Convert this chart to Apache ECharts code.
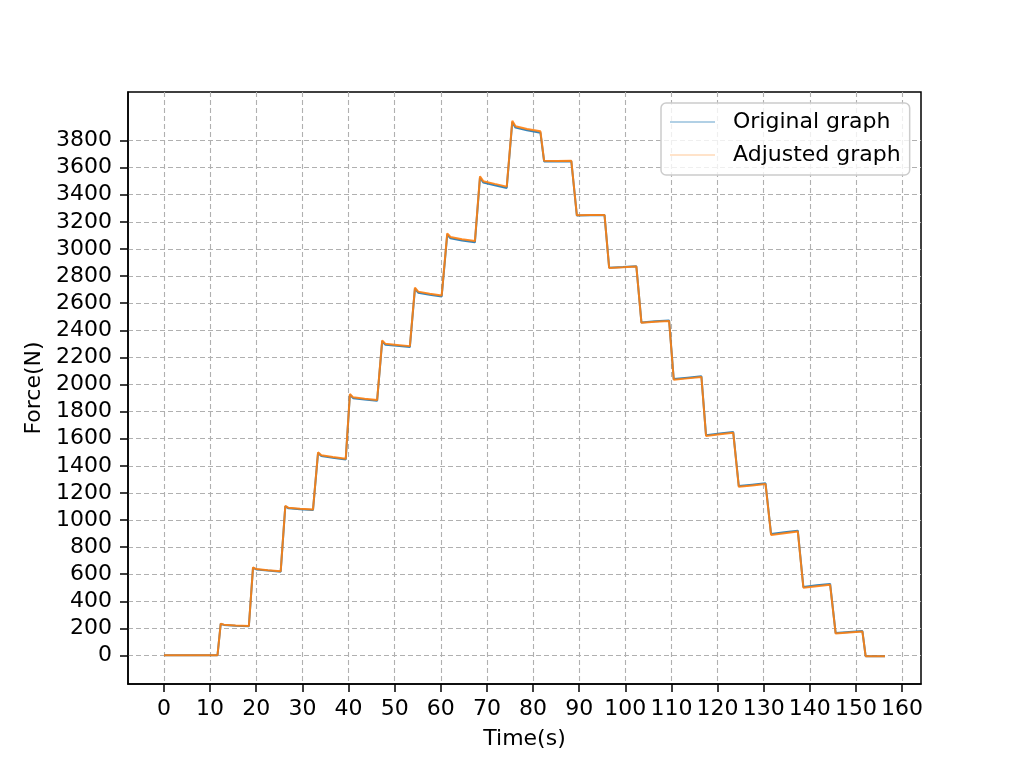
<!DOCTYPE html>
<html>
<head>
<meta charset="utf-8">
<script src="https://cdn.jsdelivr.net/npm/echarts@6/dist/echarts.min.js"></script>
<style>
  html, body { margin: 0; padding: 0; background: #fff; }
  #main { width: 1024px; height: 768px; }
</style>
</head>
<body>
<div id="main"></div>
<script>
// loading steps: time (s) of each vertex
var timeSec = [
    0, 11.6, 12.3, 13.0, 15.5, 18.4,
    19.3, 20.0, 22.5, 25.3,
    26.3, 27.0, 29.5, 32.3,
    33.4, 34.1, 36.6, 39.4,
    40.3, 41.0, 43.5, 46.2,
    47.3, 48.0, 50.5, 53.3,
    54.4, 55.1, 57.6, 60.2,
    61.4, 62.1, 64.6, 67.4,
    68.5, 69.2, 71.7, 74.3,
    75.5, 76.2, 78.7, 81.6,
    82.4, 85.3, 88.3,
    89.5, 92.5, 95.5,
    96.5, 99.5, 102.4,
    103.5, 106.5, 109.5,
    110.5, 113.5, 116.5,
    117.5, 120.5, 123.4,
    124.6, 127.5, 130.4,
    131.6, 134.5, 137.4,
    138.6, 141.5, 144.4,
    145.6, 148.5, 151.4,
    152.1, 156.3
];
var adjustedForce = [
    2, 2, 235, 228, 222, 218,
    650, 638, 630, 622,
    1105, 1090, 1083, 1077,
    1500, 1478, 1465, 1452,
    1930, 1905, 1895, 1885,
    2325, 2300, 2292, 2283,
    2715, 2685, 2670, 2657,
    3115, 3088, 3072, 3058,
    3535, 3500, 3480, 3460,
    3945, 3905, 3885, 3868,
    3650, 3648, 3650,
    3248, 3250, 3250,
    2860, 2865, 2870,
    2455, 2462, 2468,
    2035, 2045, 2055,
    1620, 1632, 1643,
    1245, 1255, 1265,
    890, 903, 915,
    500, 512, 522,
    162, 170, 177,
    -5, -5
];
var originalForce = [
    2, 2, 233, 226, 220, 216,
    647, 635, 627, 619,
    1101, 1086, 1079, 1073,
    1495, 1473, 1460, 1447,
    1924, 1899, 1889, 1879,
    2318, 2293, 2285, 2276,
    2707, 2677, 2662, 2649,
    3106, 3079, 3063, 3049,
    3525, 3490, 3470, 3450,
    3935, 3895, 3875, 3858,
    3646, 3645, 3647,
    3247, 3249, 3250,
    2862, 2867, 2872,
    2458, 2466, 2472,
    2040, 2050, 2060,
    1626, 1638, 1649,
    1251, 1261, 1271,
    896, 909, 921,
    506, 518, 528,
    166, 174, 181,
    -5, -5
];
var xTicks = [0, 10, 20, 30, 40, 50, 60, 70, 80, 90, 100, 110, 120, 130, 140, 150, 160];
var yTicks = [0, 200, 400, 600, 800, 1000, 1200, 1400, 1600, 1800, 2000, 2200, 2400, 2600, 2800, 3000, 3200, 3400, 3600, 3800];

var adjustedData = [];
var originalData = [];
for (var i = 0; i < timeSec.length; i++) {
    adjustedData.push([timeSec[i], adjustedForce[i]]);
    originalData.push([timeSec[i], originalForce[i]]);
}

var chart = echarts.init(document.getElementById('main'));
var font = 'DejaVu Sans';

function plain(v) {
    return String(v);
}

option = {
    animation: false,
    backgroundColor: '#fff',
    grid: {
        left: 128,
        right: 103,
        top: 92,
        bottom: 84,
        show: true,
        borderColor: '#000',
        borderWidth: 1.5,
        backgroundColor: 'transparent'
    },
    legend: {
        orient: 'vertical',
        left: 661,
        top: 103,
        padding: [8, 9, 9, 9],
        itemWidth: 45,
        itemHeight: 2,
        itemGap: 11,
        icon: 'rect',
        backgroundColor: 'rgba(255,255,255,0.8)',
        borderColor: '#cccccc',
        borderWidth: 1.5,
        borderRadius: 5,
        textStyle: {
            fontFamily: font,
            fontSize: 22,
            color: '#000',
            lineHeight: 22,
            padding: [0, 0, 0, 13]
        },
        data: [
            { name: 'Original graph', itemStyle: { color: 'rgba(31,119,180,0.35)' } },
            { name: 'Adjusted graph', itemStyle: { color: 'rgba(255,127,14,0.22)' } }
        ]
    },
    xAxis: {
        type: 'value',
        min: -7.8,
        max: 164.1,
        name: 'Time(s)',
        nameLocation: 'middle',
        nameGap: 44,
        nameTextStyle: { fontFamily: font, fontSize: 22, color: '#000' },
        axisLine: { onZero: false, lineStyle: { color: '#000', width: 1.5 } },
        axisTick: { show: true, length: 8, customValues: xTicks, lineStyle: { color: '#000', width: 1.5 } },
        axisLabel: { customValues: xTicks, formatter: plain, margin: 14, fontFamily: font, fontSize: 22, color: '#000' },
        splitLine: { show: true, lineStyle: { color: '#b0b0b0', width: 1.1, type: [5, 3] } }
    },
    yAxis: {
        type: 'value',
        min: -210,
        max: 4158,
        name: 'Force(N)',
        nameLocation: 'middle',
        nameGap: 66,
        nameTextStyle: { fontFamily: font, fontSize: 22, color: '#000' },
        axisLine: { show: true, onZero: false, lineStyle: { color: '#000', width: 1.5 } },
        axisTick: { show: true, length: 8, customValues: yTicks, lineStyle: { color: '#000', width: 1.5 } },
        axisLabel: { customValues: yTicks, formatter: plain, margin: 16, fontFamily: font, fontSize: 22, color: '#000' },
        splitLine: { show: true, lineStyle: { color: '#b0b0b0', width: 1.1, type: [5, 3] } }
    },
    series: [
        {
            name: 'Original graph',
            type: 'line',
            symbol: 'none',
            data: originalData,
            lineStyle: { color: '#1f77b4', width: 2, opacity: 0.9 },
            itemStyle: { color: '#1f77b4' }
        },
        {
            name: 'Adjusted graph',
            type: 'line',
            symbol: 'none',
            data: adjustedData,
            lineStyle: { color: '#ff7f0e', width: 2, opacity: 0.9 },
            itemStyle: { color: '#ff7f0e' }
        }
    ]
};

chart.setOption(option);
</script>
</body>
</html>
